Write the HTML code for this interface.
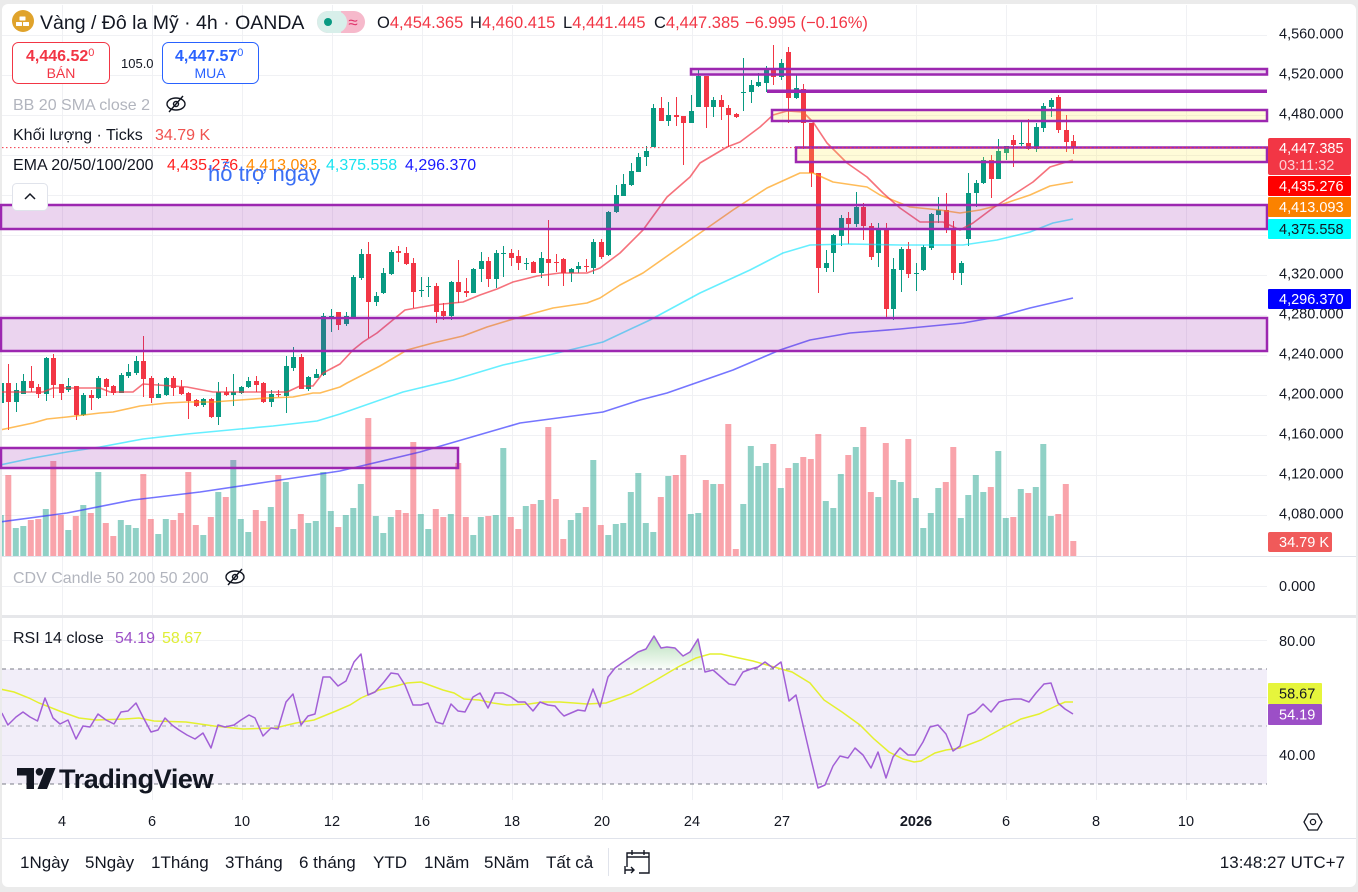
<!DOCTYPE html>
<html><head><meta charset="utf-8">
<style>
html,body{margin:0;padding:0;background:#ebebeb;}
svg{display:block;font-family:"Liberation Sans","Noto Sans CJK JP",sans-serif;}
</style></head><body>
<svg id="s" width="1358" height="892" viewBox="0 0 1358 892" xmlns="http://www.w3.org/2000/svg">
<defs>
<clipPath id="plot"><rect x="2" y="4" width="1265" height="552"/></clipPath>
<clipPath id="rsiclip"><rect x="2" y="618" width="1265" height="182"/></clipPath>
<linearGradient id="gf" x1="0" y1="0" x2="0" y2="1"><stop offset="0" stop-color="#4caf50" stop-opacity="0.4"/><stop offset="1" stop-color="#4caf50" stop-opacity="0.03"/></linearGradient>
</defs>
<rect x="0" y="0" width="1358" height="892" fill="#ebebeb"/>
<rect x="2" y="4" width="1354" height="883" rx="6" fill="#ffffff"/>

<!-- vertical grid -->
<g stroke="#f0f1f4" stroke-width="1">
<line x1="62.5" y1="5" x2="62.5" y2="800"/><line x1="152.5" y1="5" x2="152.5" y2="800"/><line x1="242.5" y1="5" x2="242.5" y2="800"/><line x1="332.5" y1="5" x2="332.5" y2="800"/><line x1="422.5" y1="5" x2="422.5" y2="800"/><line x1="512.5" y1="5" x2="512.5" y2="800"/><line x1="602.5" y1="5" x2="602.5" y2="800"/><line x1="692.5" y1="5" x2="692.5" y2="800"/><line x1="782.5" y1="5" x2="782.5" y2="800"/><line x1="916.5" y1="5" x2="916.5" y2="800"/><line x1="1006.5" y1="5" x2="1006.5" y2="800"/><line x1="1096.5" y1="5" x2="1096.5" y2="800"/><line x1="1186.5" y1="5" x2="1186.5" y2="800"/>
</g>
<!-- horizontal grid main -->
<g stroke="#f0f1f4" stroke-width="1">
<line x1="2" y1="35.5" x2="1267" y2="35.5"/><line x1="2" y1="75.5" x2="1267" y2="75.5"/><line x1="2" y1="115.5" x2="1267" y2="115.5"/><line x1="2" y1="155.5" x2="1267" y2="155.5"/><line x1="2" y1="195.5" x2="1267" y2="195.5"/><line x1="2" y1="235.5" x2="1267" y2="235.5"/><line x1="2" y1="275.5" x2="1267" y2="275.5"/><line x1="2" y1="315.5" x2="1267" y2="315.5"/><line x1="2" y1="355.5" x2="1267" y2="355.5"/><line x1="2" y1="395.5" x2="1267" y2="395.5"/><line x1="2" y1="435.5" x2="1267" y2="435.5"/><line x1="2" y1="475.5" x2="1267" y2="475.5"/><line x1="2" y1="515.5" x2="1267" y2="515.5"/>
<line x1="2" y1="586.5" x2="1267" y2="586.5"/>
<line x1="2" y1="640.5" x2="1267" y2="640.5"/><line x1="2" y1="697.5" x2="1267" y2="697.5"/><line x1="2" y1="755.5" x2="1267" y2="755.5"/>
</g>

<!-- separators -->
<line x1="2" y1="556.5" x2="1356" y2="556.5" stroke="#e0e3eb"/>
<rect x="2" y="615" width="1354" height="3" fill="#e6e7ea"/>
<line x1="2" y1="838.5" x2="1356" y2="838.5" stroke="#e0e3eb"/>

<!-- RSI background -->
<rect x="2" y="669" width="1265" height="115" fill="#7e57c2" fill-opacity="0.1"/>
<line x1="2" y1="669" x2="1267" y2="669" stroke="#787b86" stroke-dasharray="4,4"/>
<line x1="2" y1="784" x2="1267" y2="784" stroke="#787b86" stroke-dasharray="4,4"/>
<line x1="2" y1="726" x2="1267" y2="726" stroke="#a8abb5" stroke-dasharray="4,4"/>

<g id="chart" clip-path="url(#plot)"></g>

<!-- EMAs -->
<g clip-path="url(#plot)" fill="none" stroke-width="1.6" stroke-linejoin="round">
<polyline stroke="#3a3aff" stroke-opacity="0.7" points="0,522 67,513 133,500 200,492 267,482 340,471 420,452 520,423 603,412 640,400 667,393 733,370 780,350 810,340 850,333 900,329 963,323 997,317 1030,308 1073,298"/>
<polyline stroke="#00e5ff" stroke-opacity="0.6" points="0,465 33,458 67,452 100,447 143,439 187,434 240,429 273,426 317,421 340,414 360,407 403,392 453,380 503,365 553,354 603,342 650,320 700,293 750,270 783,253 810,245 850,244 900,245 963,245 997,240 1030,232 1053,223 1073,219"/>
<polyline stroke="#ff9800" stroke-opacity="0.65" points="0,430 33,423 47,419 67,417 100,413 113,412 140,406 167,403 187,402 213,402 240,400 267,398 293,397 313,393 320,393 340,387 347,383 380,366 407,350 433,343 463,336 487,327 520,317 553,308 587,303 600,298 620,285 643,273 690,240 733,210 767,188 800,173 813,173 833,182 867,187 880,195 910,207 940,210 960,213 980,210 1000,205 1030,195 1050,186 1073,182"/>
<polyline stroke="#f23645" stroke-opacity="0.7" points="0,392 43,392 53,388 100,388 110,392 133,392 143,384 187,387 213,392 240,392 287,392 300,386 313,386 323,373 340,364 353,350 363,342 377,333 405,310 433,305 463,302 480,295 497,289 513,282 537,276 560,273 587,273 600,268 620,253 643,230 667,197 690,177 700,163 727,147 740,142 760,127 773,115 787,111 803,112 813,122 827,143 847,163 867,177 883,193 900,208 920,222 943,222 960,230 973,223 993,208 1013,195 1033,182 1050,167 1073,160"/>
</g>

<!-- zones -->
<g stroke="#9c27b0" stroke-width="2.5">
<rect x="1" y="205" width="1266" height="24" fill="#9c27b0" fill-opacity="0.2"/>
<rect x="1" y="318" width="1266" height="33" fill="#9c27b0" fill-opacity="0.2"/>
<rect x="1" y="448" width="457" height="20" fill="#9c27b0" fill-opacity="0.2"/>
<rect x="691" y="69" width="576" height="5.5" fill="#9c27b0" fill-opacity="0.2"/>
<rect x="772" y="110" width="495" height="11" fill="#ffeb3b" fill-opacity="0.2"/>
<rect x="796" y="147.5" width="471" height="14.5" fill="#ffeb3b" fill-opacity="0.2"/>
</g>
<rect x="767" y="89.5" width="500" height="3.5" fill="#9c27b0"/>

<!-- current price dotted line -->
<line x1="2" y1="147.6" x2="1267" y2="147.6" stroke="#f23645" stroke-width="1" stroke-dasharray="1.5,2.5"/>

<!-- RSI -->
<g clip-path="url(#rsiclip)">
<polygon fill="url(#gf)" points="614,669 615,668 622,663 631,657 638,652 646,649 654,636 661,648 667,647 675,648 683,656 690,652 698,639 703,669"/>
<polyline fill="none" stroke="#e4f02f" stroke-width="1.5" points="0,689 14,692 29,698 39,703 62,712 79,718 96,720 125,719 139,718 154,721 186,722 214,726 243,729 275,728 296,723 314,720 336,711 350,705 361,698 379,690 396,686 407,683 421,682 443,690 454,693 464,699 479,700 493,703 507,705 529,704 543,702 560,702 574,703 587,704 606,703 631,694 656,680 678,667 696,658 710,654 721,654 739,658 753,661 774,667 792,672 810,683 824,700 842,712 860,725 874,739 889,752 903,759 914,762 921,761 935,753 946,750 960,748 981,740 1003,728 1021,719 1039,714 1058,705 1065,702 1073,702"/>
<polyline fill="none" stroke="#a25fd6" stroke-width="1.5" stroke-linejoin="round" points="1.8,713 7.9,725 16,717 23,712 30,717 37.5,721 45,698 53,718 60,724 68,720 76,739 83,726 90,727 98,714 106,720 114,724 121,712 128,711 136,703 143,717 151,732 158,730 165,718 172,725 179,730 187,735 195,739 203,733 211,748 218,725 225,727 234,725 241,720 249,715 255,718 263,736 271,728 278,729 286,702 293,694 301,725 308,716 315,714 323,677 330,677 338,686 346,681 354,662 361,654 368,695 375,692 384,682 391,673 398,674 405,685 413,705 421,705 428,703 436,722 443,724 451,704 458,711 465,712 473,697 480,693 488,708 495,693 503,693 511,697 518,702 525,702 533,711 540,702 548,705 555,706 560,712 564,716 571,713 578,710 585,711 593,689 600,707 608,677 615,668 622,663 631,657 638,652 646,649 654,636 661,648 667,647 675,648 683,656 690,652 698,639 705,672 713,670 721,677 729,684 735,685 743,672 751,669 758,667 765,662 773,668 781,662 789,701 796,695 810,755 818,788 825,785 833,766 840,756 848,758 855,748 863,755 871,768 878,752 886,778 893,757 900,748 908,755 915,755 923,742 930,727 938,725 946,734 953,751 960,746 968,715 975,712 983,704 991,712 999,702 1006,700 1014,699 1021,699 1029,702 1036,693 1044,684 1051,683 1058,703 1065,709 1073,714"/>
</g>

<!-- TradingView logo -->
<g fill="#131722">
<path d="M17 768 h17 v21 h-7.5 v-13.5 h-9.5 z"/>
<circle cx="39.5" cy="771.8" r="3.8"/>
<path d="M46 768 h9.5 l-8.5 21 h-9.5 z"/>
<text x="59" y="788" font-size="27" font-weight="bold" letter-spacing="-0.4">TradingView</text>
</g>

<!-- Header -->
<circle cx="23" cy="21" r="11" fill="#e0a32b"/>
<g fill="#fff"><rect x="16" y="22" width="6" height="4" rx="0.5"/><rect x="23" y="22" width="6" height="4" rx="0.5"/><rect x="19.5" y="16.5" width="6" height="4" rx="0.5"/></g>
<text x="40" y="29" font-size="19.5" fill="#131722">Vàng / Đô la Mỹ · 4h · OANDA</text>
<rect x="317" y="11" width="48" height="22" rx="11" fill="#f6b9cb"/>
<rect x="317" y="11" width="30" height="22" rx="11" fill="#d8efea"/>
<rect x="333" y="11" width="8" height="22" fill="#d8efea"/>
<circle cx="328" cy="22" r="4" fill="#089981"/>
<text x="353" y="28" font-size="17" fill="#e0336a" text-anchor="middle">≈</text>
<g font-size="16.5">
<text x="377" y="28" fill="#131722">O<tspan fill="#f23645">4,454.365</tspan></text>
<text x="470" y="28" fill="#131722">H<tspan fill="#f23645">4,460.415</tspan></text>
<text x="563" y="28" fill="#131722">L<tspan fill="#f23645">4,441.445</tspan></text>
<text x="654" y="28" fill="#131722">C<tspan fill="#f23645">4,447.385</tspan></text>
<text x="745" y="28" fill="#f23645">−6.995 (−0.16%)</text>
</g>

<!-- Buy/Sell -->
<rect x="12.5" y="42.5" width="97" height="41" rx="6" fill="#fff" stroke="#f23645"/>
<text x="26" y="61" font-size="16" font-weight="bold" fill="#f23645">4,446.52<tspan font-size="11" dy="-5" font-weight="normal">0</tspan></text>
<text x="61" y="78" font-size="14" fill="#f23645" text-anchor="middle">BÁN</text>
<text x="121" y="68" font-size="13" fill="#131722">105.0</text>
<rect x="162.5" y="42.5" width="96" height="41" rx="6" fill="#fff" stroke="#2962ff"/>
<text x="175" y="61" font-size="16" font-weight="bold" fill="#2962ff">4,447.57<tspan font-size="11" dy="-5" font-weight="normal">0</tspan></text>
<text x="210" y="78" font-size="14" fill="#2962ff" text-anchor="middle">MUA</text>

<!-- legends -->
<text x="13" y="110" font-size="16" fill="#b2b5be">BB 20 SMA close 2</text>
<g fill="none" stroke="#131722" stroke-width="1.4"><ellipse cx="176" cy="104" rx="9" ry="6"/><circle cx="176" cy="104" r="2.5"/><line x1="169" y1="112" x2="183" y2="96"/></g>
<text x="13" y="140" font-size="16" fill="#131722">Khối lượng · Ticks</text>
<text x="155" y="140" font-size="16" fill="#f05350">34.79 K</text>
<text x="13" y="170" font-size="16" fill="#131722">EMA 20/50/100/200</text>
<text x="167" y="170" font-size="16" fill="#ff1f1f">4,435.276</text>
<text x="246" y="170" font-size="16" fill="#ff8a00">4,413.093</text>
<text x="326" y="170" font-size="16" fill="#19e3f0">4,375.558</text>
<text x="405" y="170" font-size="16" fill="#1a1aff">4,296.370</text>
<text x="208" y="181" font-size="22" fill="#3a6ff5">hỗ trợ ngày</text>
<rect x="12.5" y="183.5" width="35" height="27" rx="4" fill="#fff" stroke="#e0e3eb"/>
<polyline points="25,199 30,194 35,199" fill="none" stroke="#131722" stroke-width="1.5"/>

<text x="13" y="583" font-size="16" fill="#b2b5be">CDV Candle 50 200 50 200</text>
<g fill="none" stroke="#131722" stroke-width="1.4"><ellipse cx="235" cy="577" rx="9" ry="6"/><circle cx="235" cy="577" r="2.5"/><line x1="228" y1="585" x2="242" y2="569"/></g>

<text x="13" y="643" font-size="16" fill="#131722">RSI 14 close</text>
<text x="115" y="643" font-size="16" fill="#9c4fc7">54.19</text>
<text x="162" y="643" font-size="16" fill="#dfee36">58.67</text>

<!-- price axis -->
<g font-size="14.5" fill="#131722">
<text x="1279" y="38.5">4,560.000</text>
<text x="1279" y="78.5">4,520.000</text>
<text x="1279" y="118.5">4,480.000</text>
<text x="1279" y="278.5">4,320.000</text>
<text x="1279" y="318.5">4,280.000</text>
<text x="1279" y="358.5">4,240.000</text>
<text x="1279" y="398.5">4,200.000</text>
<text x="1279" y="438.5">4,160.000</text>
<text x="1279" y="478.5">4,120.000</text>
<text x="1279" y="518.5">4,080.000</text>
<text x="1279" y="591">0.000</text>
<text x="1279" y="646">80.00</text>
<text x="1279" y="760">40.00</text>
</g>
<g font-size="14.5">
<rect x="1268" y="138" width="83" height="37" rx="2" fill="#f23645"/>
<text x="1279" y="153" fill="#fff">4,447.385</text>
<text x="1279" y="170" fill="#fcd0d5">03:11:32</text>
<rect x="1268" y="176" width="83" height="20" rx="1" fill="#ff0000"/>
<text x="1279" y="191" fill="#fff">4,435.276</text>
<rect x="1268" y="197" width="83" height="20" rx="1" fill="#fb8200"/>
<text x="1279" y="212" fill="#fff">4,413.093</text>
<rect x="1268" y="219" width="83" height="20" rx="1" fill="#00ffff"/>
<text x="1279" y="234" fill="#131722">4,375.558</text>
<rect x="1268" y="289" width="83" height="20" rx="1" fill="#0000ff"/>
<text x="1279" y="304" fill="#fff">4,296.370</text>
<rect x="1268" y="532" width="64" height="20" rx="2" fill="#f05a5a"/>
<text x="1279" y="547" fill="#fff">34.79 K</text>
<rect x="1268" y="683" width="54" height="21" rx="1" fill="#e6f53c"/>
<text x="1279" y="698.5" fill="#131722">58.67</text>
<rect x="1268" y="704" width="54" height="21" rx="1" fill="#9c4fc7"/>
<text x="1279" y="719.5" fill="#fff">54.19</text>
</g>

<!-- time axis -->
<g font-size="14.5" fill="#131722" text-anchor="middle">
<text x="62" y="826">4</text><text x="152" y="826">6</text><text x="242" y="826">10</text><text x="332" y="826">12</text><text x="422" y="826">16</text><text x="512" y="826">18</text><text x="602" y="826">20</text><text x="692" y="826">24</text><text x="782" y="826">27</text><text x="916" y="826" font-weight="bold">2026</text><text x="1006" y="826">6</text><text x="1096" y="826">8</text><text x="1186" y="826">10</text>
</g>
<polygon points="1304,822 1308.5,814 1317.5,814 1322,822 1317.5,830 1308.5,830" fill="none" stroke="#131722" stroke-width="1.3"/>
<circle cx="1313" cy="822" r="2.6" fill="none" stroke="#131722" stroke-width="1.3"/>

<!-- bottom toolbar -->
<g font-size="17" fill="#131722">
<text x="20" y="868">1Ngày</text><text x="85" y="868">5Ngày</text><text x="151" y="868">1Tháng</text><text x="225" y="868">3Tháng</text><text x="299" y="868">6 tháng</text><text x="373" y="868">YTD</text><text x="424" y="868">1Năm</text><text x="484" y="868">5Năm</text><text x="546" y="868">Tất cả</text>
<text x="1345" y="868" text-anchor="end">13:48:27 UTC+7</text>
</g>
<line x1="608.5" y1="848" x2="608.5" y2="876" stroke="#e0e3eb"/>
<g fill="none" stroke="#131722" stroke-width="1.4">
<path d="M627 867 v-14 h22 v20 h-10"/><line x1="627" y1="857" x2="649" y2="857"/><line x1="632" y1="850" x2="632" y2="855"/><line x1="644" y1="850" x2="644" y2="855"/>
<path d="M625 870 h9 M631 867 l3 3 l-3 3"/><line x1="625" y1="866" x2="625" y2="874"/>
</g>
</svg>
<script>
var C=[[1,383,403,381,405],[0,383,402,364,430],[1,390,402,383,412],[1,381,394,374,394],[0,381,388,366,392],[0,387,394,384,398],[1,358,394,357,401],[0,358,385,354,398],[0,384,393,384,400],[1,386,390,378,392],
[0,386,415,386,420],[1,395,415,393,416],[0,395,398,390,410],[1,378,398,376,399],[0,379,387,378,396],[0,386,393,385,395],[1,375,393,373,393],[1,372,376,364,378],[1,361,373,356,375],[0,361,379,336,397],
[0,378,398,376,403],[1,394,398,383,398],[1,378,395,377,396],[0,378,388,376,396],[0,387,394,380,395],[0,393,401,392,419],[0,400,406,399,407],[1,399,405,398,407],[0,399,417,398,418],[1,392,417,382,425],
[0,392,395,387,396],[1,392,395,374,406],[1,387,393,386,394],[1,381,387,377,388],[0,381,385,376,392],[0,383,402,382,403],[1,394,402,390,407],[0,394,395,390,397],[1,366,396,356,413],[1,357,368,347,371],
[0,357,389,354,389],[1,377,389,376,391],[1,374,378,369,378],[1,316,375,313,376],[1,316,317,309,332],[0,312,325,312,330],[1,316,324,312,326],[1,277,318,275,318],[1,254,278,249,280],[0,254,302,242,338],
[1,296,302,292,306],[1,273,293,268,294],[1,252,274,250,275],[0,251,253,246,262],[0,253,264,247,265],[0,263,292,258,308],[1,290,291,277,297],[1,286,287,277,297],[0,286,312,283,323],[0,311,316,303,320],
[1,282,316,281,320],[0,282,292,260,303],[0,291,293,278,297],[1,269,293,268,293],[1,261,269,252,282],[0,261,279,257,287],[1,253,279,250,288],[1,253,254,246,277],[0,253,258,249,266],[0,256,263,250,270],
[1,263,264,258,270],[0,262,273,261,273],[1,258,273,252,278],[0,259,263,220,286],[0,262,263,254,272],[0,259,273,258,286],[1,269,273,268,282],[1,266,269,262,273],[0,266,267,259,272],[1,242,268,239,274],
[0,242,257,239,259],[1,212,255,211,256],[1,195,212,185,213],[1,184,196,174,196],[1,171,185,163,186],[1,157,172,153,172],[1,151,157,146,166],[1,108,147,104,147],[0,108,121,97,121],[1,115,121,102,126],
[0,115,117,97,126],[0,116,123,116,165],[1,111,123,95,123],[1,76,107,69,107],[0,76,107,76,128],[1,100,107,97,117],[0,100,107,95,120],[0,108,115,105,147],[0,114,117,113,118],[1,92,93,58,111],
[1,85,92,80,103],[1,82,86,73,87],[1,69,83,66,92],[0,69,77,45,85],[1,63,77,59,80],[0,52,98,47,123],[1,88,98,74,99],[0,89,123,84,149],[0,123,173,123,187],[0,173,268,173,293],
[1,263,268,250,272],[1,235,253,234,272],[1,218,236,215,246],[0,218,224,212,244],[1,207,224,192,227],[0,207,226,203,240],[0,226,257,223,260],[1,229,253,223,267],[0,229,309,223,317],[1,269,309,258,320],
[1,249,270,247,292],[0,249,274,242,278],[1,273,274,263,291],[1,247,270,245,271],[1,214,248,213,250],[1,210,215,197,223],[0,210,229,193,233],[0,229,273,221,280],[1,263,273,261,285],[1,193,239,173,246],
[1,183,193,180,207],[1,160,183,157,184],[0,160,179,155,198],[1,151,179,139,179],[1,146,153,146,160],[0,140,145,135,167],[1,143,144,122,146],[0,143,149,119,150],[1,127,149,123,152],[1,106,128,103,132],
[1,100,107,98,117],[0,97,130,95,133],[0,130,142,115,152],[0,141,147,135,154]];
var V=[515,475,528,526,520,519,509,461,515,530,516,505,513,472,523,536,520,525,528,474,519,534,519,520,513,472,525,535,517,492,497,460,519,532,510,521,507,475,482,529,514,523,521,472,511,527,515,508,484,418,516,533,517,510,513,442,514,529,509,517,514,463,517,535,517,516,515,448,517,529,506,504,500,427,499,539,520,513,507,460,525,535,524,523,492,473,523,532,497,476,475,455,514,513,480,484,484,424,549,504,446,466,463,444,488,468,463,457,459,434,501,508,474,455,447,427,492,497,443,480,482,439,498,528,513,488,482,447,518,495,475,492,487,451,518,517,489,493,487,444,516,514,484,541];
var s='';
for(var i=0;i<C.length;i++){var x=0.8+7.5*i;var g=C[i][0];
s+='<rect x="'+(x-3).toFixed(1)+'" y="'+V[i]+'" width="6" height="'+(556-V[i])+'" fill="'+(g?'#089981':'#f23645')+'" fill-opacity="0.45"/>';}
for(var i=0;i<C.length;i++){var c=C[i];var x=0.8+7.5*i;var col=c[0]?'#089981':'#f23645';var wx=Math.round(x)+0.5;
s+='<line x1="'+wx+'" y1="'+c[3]+'" x2="'+wx+'" y2="'+c[4]+'" stroke="'+col+'" stroke-width="1"/>';
var h=Math.max(1,c[2]-c[1]);
s+='<rect x="'+(Math.round(x)-2)+'" y="'+c[1]+'" width="5" height="'+h+'" fill="'+col+'"/>';}
document.getElementById('chart').innerHTML=s;
</script>
</body></html>
